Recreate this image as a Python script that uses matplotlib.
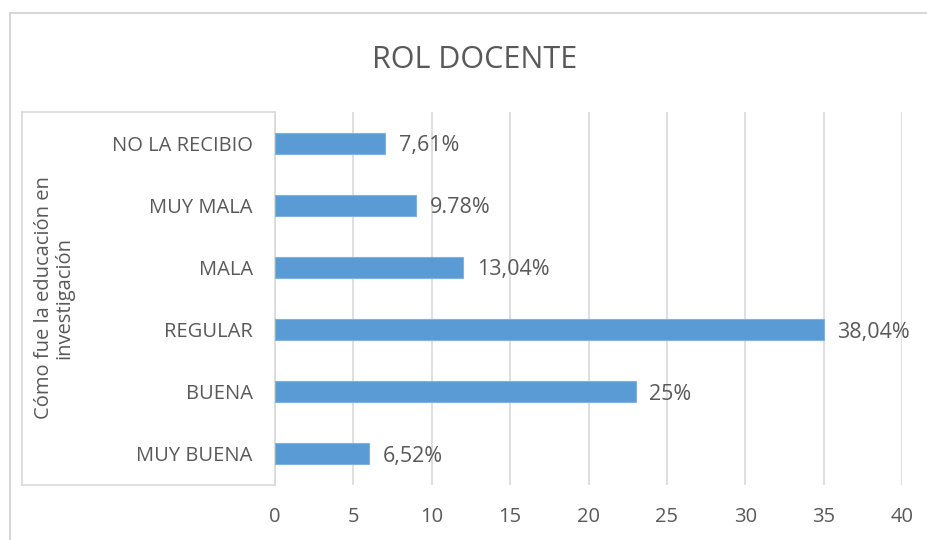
import matplotlib
matplotlib.use("Agg")
import matplotlib.pyplot as plt
from matplotlib.lines import Line2D

categories = ["MUY BUENA", "BUENA", "REGULAR", "MALA", "MUY MALA", "NO LA RECIBIO"]
values = [6, 23, 35, 12, 9, 7]
labels = ["6,52%", "25%", "38,04%", "13,04%", "9.78%", "7,61%"]
xticks = [0, 5, 10, 15, 20, 25, 30, 35, 40]
title = "ROL DOCENTE"
ylabel = "Cómo fue la educación en\ninvestigación"

plt.rcParams['font.family'] = ['Open Sans', 'DejaVu Sans']
TXT = "#595959"
GRID = "#D9D9D9"
BAR = "#5B9BD5"

W, H = 928, 540
fig = plt.figure(figsize=(W/100, H/100), dpi=100)
ax = fig.add_axes([275/W, 1-485/H, (902-275)/W, (485-112)/H])

ypos = list(range(len(categories)))
ax.barh(ypos, values, height=0.34, color=BAR, edgecolor="#7FB2E0", linewidth=0.8, zorder=3)
for y, v, l in zip(ypos, values, labels):
    ax.annotate(l, (v, y), xytext=(10, 0), textcoords="offset points",
                va="center_baseline", ha="left", fontsize=15.5, color=TXT)

ax.set_xlim(0, 40)
ax.set_ylim(-0.5, len(categories)-0.5)
ax.set_xticks(xticks)
ax.set_xticklabels([str(t) for t in xticks])
ax.set_yticks(ypos)
ax.set_yticklabels(categories, va="center_baseline")
ax.tick_params(axis='both', length=0, labelsize=14.5, colors=TXT)
ax.tick_params(axis='x', pad=16)
ax.tick_params(axis='y', pad=16)
ax.grid(axis='x', color=GRID, linewidth=1.2, zorder=0)
for s in ["top", "right", "bottom"]:
    ax.spines[s].set_visible(False)
ax.spines["left"].set_color(GRID)
ax.spines["left"].set_linewidth(1.2)
ax.set_axisbelow(True)

# Title
fig.text(475/W, 1-60/H, title, ha="center", va="center", fontsize=22, color=TXT)
# Y label
fig.text(54/W, 1-298/H, ylabel, ha="center", va="center", rotation=90,
         fontsize=14.5, color=TXT, linespacing=1.05)

# category box
def fl(x0, y0, x1, y1, c=GRID, lw=1.2):
    fig.add_artist(Line2D([x0/W, x1/W], [1-y0/H, 1-y1/H], color=c, linewidth=lw))
fl(22, 112, 275, 112)
fl(22, 485, 275, 485)
fl(22, 112, 22, 485)
# outer border
fl(10, 13, 928, 13, c="#D0D0D0")
fl(10, 13, 10, 540, c="#D0D0D0")

fig.savefig("out.png", dpi=100)
